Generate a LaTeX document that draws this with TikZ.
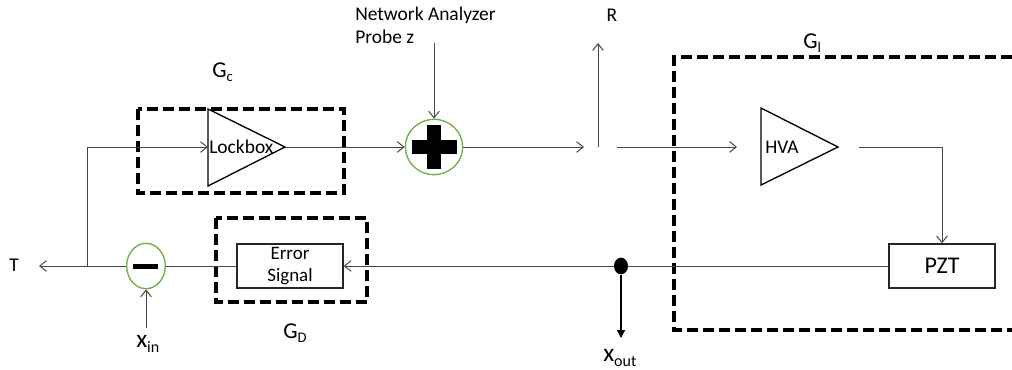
\documentclass[tikz,border=0pt]{standalone}
\usepackage{fontspec}
\setmainfont{Carlito}
\usetikzlibrary{arrows.meta,shapes.geometric}
\definecolor{sumgreen}{RGB}{112,173,71}
\definecolor{linegray}{RGB}{70,70,70}
\newcommand\glab[1]{{\fontsize{17}{17}\selectfont G}{\fontsize{11}{11}\selectfont\raisebox{-3.5pt}{#1}}}
\newcommand\xlab[1]{{\fontsize{19}{19}\selectfont x}{\fontsize{12}{12}\selectfont\raisebox{-4pt}{#1}}}
\begin{document}
\begin{tikzpicture}[x=0.75pt,y=-0.75pt,
  conn/.style={draw=linegray, line width=0.75pt},
  arr/.style={conn, -{Straight Barb[length=5pt,width=8pt]}},
  dbox/.style={draw=black, line width=3pt, dash pattern=on 8pt off 4pt},
  amp/.style={draw=black, line width=1pt},
  sumc/.style={draw=sumgreen, line width=1pt, ellipse, inner sep=0pt},
  blk/.style={draw=black!85, line width=1pt, fill=white, inner sep=0pt, minimum width=79.5pt, minimum height=33pt},
  lbl/.style={inner sep=0pt, font=\fontsize{14.6}{17.25}\selectfont},
]
\useasboundingbox (0,0) rectangle (1012,369);

% dashed group boxes
\draw[dbox] (138,109) rectangle (344,193);
\draw[dbox] (216,218) rectangle (367,302);
\draw[dbox] (1012,57) -- (674,57) -- (674,330) -- (1012,330);

% amplifiers
\draw[amp] (208,109) -- (285,147) -- (208,186) -- cycle;
\coordinate (lkin) at (208,147);
\coordinate (lkout) at (285,147);
\node[lbl, anchor=west] (lk) at (209,147) {Lockbox};

\draw[amp] (761,108) -- (838,147) -- (761,185) -- cycle;
\node[lbl, anchor=west, font=\fontsize{14.5}{16}\selectfont] (hva) at (765,147) {HVA};

% summing junctions
\node[sumc, minimum width=43pt, minimum height=41.5pt] (plus) at (434,147) {};
\fill (412,140) rectangle (457,154);
\fill (427,125) rectangle (441,169);

\node[sumc, minimum width=29pt, minimum height=34pt] (minus) at (146,266) {};
\fill (133,263.5) rectangle (158,268.5);

% blocks
\node[blk, align=center, font=\fontsize{14.2}{16.5}\selectfont] (err) at (290,266) {Error\\Signal};
\node[blk, font=\fontsize{18}{18}\selectfont] (pzt) at (942,266) {PZT};

% coordinates
\coordinate (j) at (87,266);
\coordinate (naend) at (434,43);
\coordinate (g1) at (584,147);
\coordinate (rb) at (598,147);
\coordinate (rt) at (598,43);
\coordinate (g2) at (617,147);
\coordinate (g3) at (737,147);
\coordinate (hvo) at (859,147);
\coordinate (tend) at (39,266);
\coordinate (xinb) at (146,328);
\coordinate (xoe) at (621,338);

% connectors
\draw[arr] (j) |- (lkin);
\draw[arr] (lkout) -- (plus.west);
\draw[arr] (naend) -- (plus.north);
\draw[arr] (plus.east) -- (g1);
\draw[arr] (rb) -- (rt);
\draw[arr] (g2) -- (g3);
\draw[arr] (hvo) -| (pzt.north);
\draw[arr] (pzt.west) -- (err.east);
\draw[conn] (err.west) -- (minus.east);
\draw[arr] (minus.west) -- (tend);
\draw[arr] (xinb) -- (minus.south);

\node[ellipse, fill=black, minimum width=10.5pt, minimum height=12.5pt, inner sep=0pt] (dot) at (621,266) {};
\draw[black, line width=1pt, -{Triangle[length=6pt,width=6pt]}] (dot) -- (xoe);

% labels
\node[lbl, anchor=base west, align=left] (na) at (355,43) {Network Analyzer\\Probe z};
\node[lbl] (R) at (612,15) {R};
\node[lbl] (T) at (14,265) {T};
\node[inner sep=0pt, anchor=base west] (gc) at (212,77) {\glab{c}};
\node[inner sep=0pt, anchor=base west] (gl) at (803,48) {\glab{l}};
\node[inner sep=0pt, anchor=base west] (gd) at (283,338) {\glab{D}};
\node[inner sep=0pt, anchor=base west] (xin) at (136,347) {\xlab{in}};
\node[inner sep=0pt, anchor=base west] (xout) at (603,361) {\xlab{out}};
\end{tikzpicture}
\end{document}
